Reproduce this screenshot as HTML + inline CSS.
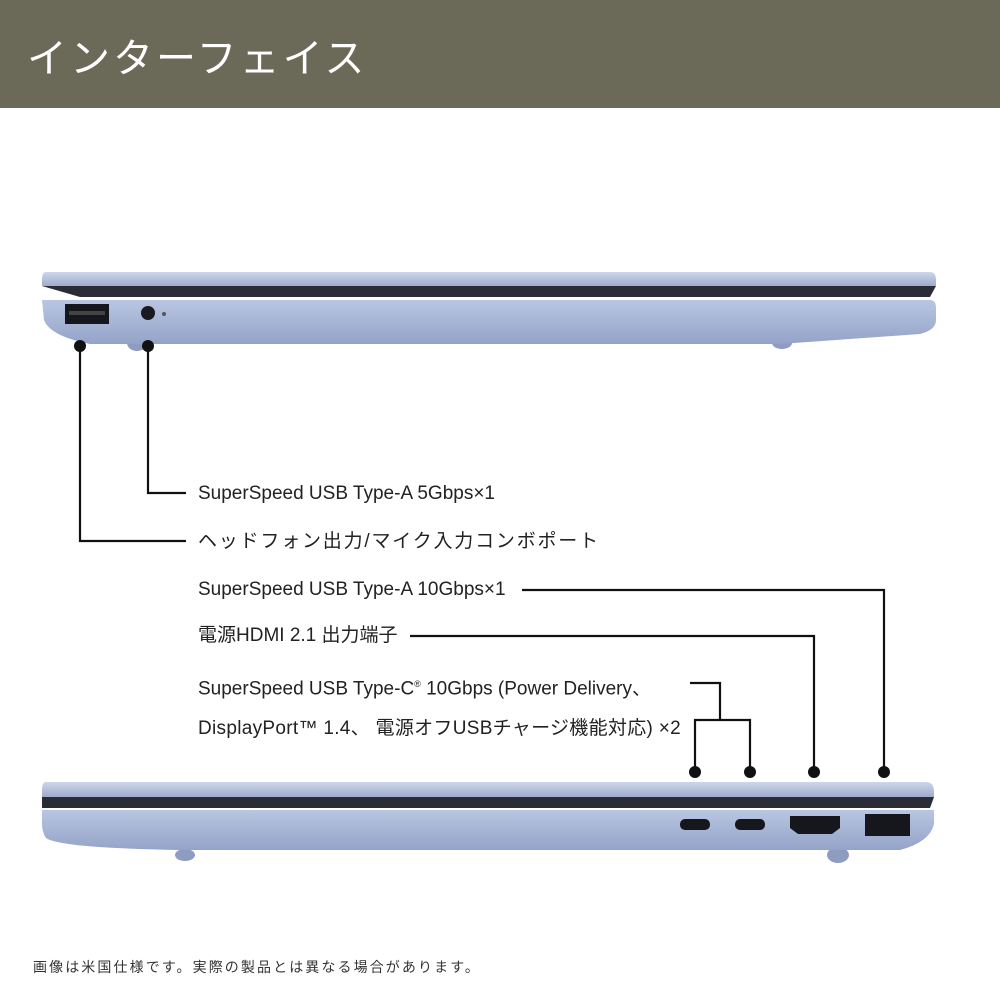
<!DOCTYPE html>
<html><head><meta charset="utf-8"><style>
html,body{margin:0;padding:0;background:#fff;width:1000px;height:1000px;overflow:hidden;font-family:"Liberation Sans","Noto Sans CJK JP",sans-serif;}
.hdr{position:absolute;left:0;top:0;width:1000px;height:108px;background:#6b6958;}
.hdr span{position:absolute;left:27px;top:26px;color:#fff;font-size:40px;letter-spacing:3px;font-family:"Noto Sans CJK JP",sans-serif;}
.t{position:absolute;left:198px;font-size:19px;color:#222;white-space:nowrap;line-height:22px;}
.f{position:absolute;left:33px;top:957px;font-size:14px;letter-spacing:2.1px;color:#333;font-family:"Noto Sans CJK JP",sans-serif;}
</style></head><body>
<div class="hdr"><span>インターフェイス</span></div>
<svg width="1000" height="1000" style="position:absolute;left:0;top:0">
<defs>
<linearGradient id="b" x1="0" y1="0" x2="0" y2="1"><stop offset="0" stop-color="#b9c6e2"/><stop offset="1" stop-color="#94a3c8"/></linearGradient>
<linearGradient id="l" x1="0" y1="0" x2="0" y2="1"><stop offset="0" stop-color="#cdd6ea"/><stop offset="1" stop-color="#9eabcb"/></linearGradient>
</defs>
<ellipse cx="137" cy="343" rx="10" ry="8" fill="#8e9cc0"/>
<ellipse cx="782" cy="343" rx="10" ry="6" fill="#8e9cc0"/>
<path d="M46 272 H930 Q936 272 936 280 V286 H42 V280 Q42 272 46 272Z" fill="url(#l)"/>
<path d="M42 286 H936 L930 297 H80 Z" fill="#2a2d38"/>
<path d="M42 300 H930 Q936 300 936 308 V320 Q936 330 920 334 L780 344 H90 Q50 336 44 320 Z" fill="url(#b)"/>
<rect x="65" y="304" width="44" height="20" fill="#15171c"/>
<rect x="69" y="311" width="36" height="4" fill="#444"/>
<circle cx="148" cy="313" r="7" fill="#1a1b20"/>
<circle cx="164" cy="314" r="2" fill="#555"/>
<ellipse cx="185" cy="855" rx="10" ry="6" fill="#8e9cc0"/>
<ellipse cx="838" cy="855" rx="11" ry="8" fill="#8e9cc0"/>
<path d="M46 782 H926 Q934 782 934 792 V797 H42 V790 Q42 782 46 782Z" fill="url(#l)"/>
<path d="M42 797 H934 L930 808 H42 Z" fill="#2a2d38"/>
<path d="M42 810 H934 V824 Q930 842 900 850 H180 Q60 848 46 838 Q42 832 42 824Z" fill="url(#b)"/>
<rect x="680" y="819" width="30" height="11" rx="5" fill="#15171c"/>
<rect x="735" y="819" width="30" height="11" rx="5" fill="#15171c"/>
<path d="M790 816 H840 V828 L832 834 H798 L790 828Z" fill="#15171c"/>
<rect x="865" y="814" width="45" height="22" fill="#15171c"/>
<g stroke="#111" stroke-width="2.2" fill="none">
<polyline points="80,346 80,541 186,541"/>
<polyline points="148,346 148,493 186,493"/>
<polyline points="522,590 884,590 884,772"/>
<polyline points="410,636 814,636 814,772"/>
<polyline points="690,683 720,683 720,720"/>
<polyline points="695,772 695,720 750,720 750,772"/>
</g>
<g fill="#111">
<circle cx="80" cy="346" r="6"/><circle cx="148" cy="346" r="6"/>
<circle cx="695" cy="772" r="6"/><circle cx="750" cy="772" r="6"/>
<circle cx="814" cy="772" r="6"/><circle cx="884" cy="772" r="6"/>
</g>
</svg>
<div class="t" style="top:483px">SuperSpeed USB Type-A 5Gbps×1</div>
<div class="t" style="top:531px;letter-spacing:1.8px">ヘッドフォン出力/マイク入力コンボポート</div>
<div class="t" style="top:579px">SuperSpeed USB Type-A 10Gbps×1</div>
<div class="t" style="top:625px">電源HDMI 2.1 出力端子</div>
<div class="t" style="top:673px">SuperSpeed USB Type-C<sup style="font-size:9px">®</sup> 10Gbps (Power Delivery、</div>
<div class="t" style="top:718px;letter-spacing:0.3px">DisplayPort™ 1.4、 電源オフUSBチャージ機能対応) ×2</div>
<div class="f">画像は米国仕様です。実際の製品とは異なる場合があります。</div>
</body></html>
